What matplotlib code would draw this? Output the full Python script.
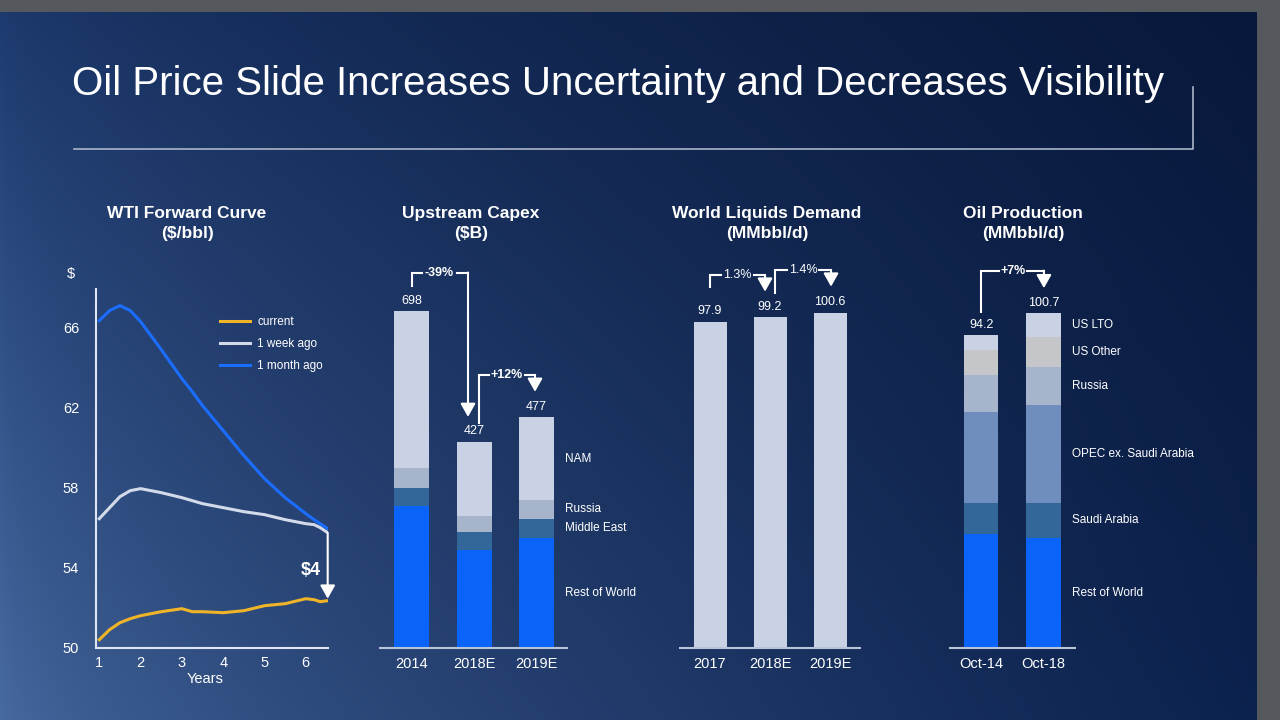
import numpy as np
import matplotlib
matplotlib.use('Agg')
import matplotlib.pyplot as plt
from matplotlib.lines import Line2D

plt.rcParams['font.family'] = ['Liberation Sans', 'DejaVu Sans']

W, H = 1280, 720

# --- data -------------------------------------------------------------
title = 'Oil Price Slide Increases Uncertainty and Decreases Visibility'

# WTI forward curve ($/bbl)
wti_years = [1.0, 1.25, 1.5, 1.75, 2.0, 2.5, 3.0, 3.25, 3.5, 4.0, 4.5, 5.0, 5.5, 6.0, 6.2, 6.35, 6.53]
wti_current = [50.4, 50.9, 51.25, 51.45, 51.6, 51.8, 51.95, 51.8, 51.8, 51.75, 51.85, 52.1, 52.2, 52.45, 52.4, 52.3, 52.35]
wti_week = [56.45, 57.0, 57.55, 57.85, 57.95, 57.75, 57.5, 57.35, 57.2, 57.0, 56.8, 56.65, 56.4, 56.2, 56.15, 56.0, 55.75]
wti_month = [66.35, 66.85, 67.1, 66.85, 66.3, 64.9, 63.45, 62.8, 62.1, 60.85, 59.6, 58.45, 57.5, 56.7, 56.4, 56.2, 55.95]
wti_yticks = [50, 54, 58, 62, 66]
wti_xticks = [1, 2, 3, 4, 5, 6]

# Upstream capex ($B)
capex_cats = ['2014', '2018E', '2019E']
capex_row = [294, 202, 228]
capex_me = [37, 38, 39]
capex_russia = [42, 33, 39]
capex_nam = [325, 154, 171]
capex_labels = ['Rest of World', 'Middle East', 'Russia', 'NAM']

# World liquids demand (MMbbl/d)
demand_cats = ['2017', '2018E', '2019E']
demand_vals = [97.9, 99.2, 100.6]

# Oil production (MMbbl/d)
prod_cats = ['Oct-14', 'Oct-18']
prod_row = [34.2, 33.1]
prod_saudi = [9.5, 10.6]
prod_opec = [27.4, 29.4]
prod_russia = [11.0, 11.5]
prod_usother = [7.6, 8.9]
prod_lto = [4.5, 7.2]
prod_labels = ['Rest of World', 'Saudi Arabia', 'OPEC ex. Saudi Arabia', 'Russia', 'US Other', 'US LTO']

# --- colours ----------------------------------------------------------
C_ROW = '#0a64fa'
C_ME = '#33679a'
C_RUS = '#a6b4cc'
C_NAM = '#c9d2e4'
C_OPEC = '#6f8ebd'
C_USO = '#c5c6ca'
C_AXIS = '#b8c4d8'

fig = plt.figure(figsize=(12.8, 7.2), dpi=100)
fig.patch.set_facecolor('#55595e')


def px_axes(x0, x1, ybot, ytop, z=1):
    return fig.add_axes([x0 / W, 1 - ybot / H, (x1 - x0) / W, (ybot - ytop) / H], zorder=z)


# background gradient (light bottom-left -> dark top-right)
bg = px_axes(0, 1257, 720, 12, z=0)
nx, ny = 400, 240
u = np.linspace(0, 1, nx)[None, :, None] ** 0.6
v = np.linspace(0, 1, ny)[:, None, None]
TL = np.array([0x1e, 0x3b, 0x70]) / 255
TR = np.array([0x08, 0x18, 0x3a]) / 255
BL = np.array([0x48, 0x6b, 0xa2]) / 255
BR = np.array([0x0c, 0x22, 0x4e]) / 255
grad = (1 - u) * (1 - v) * TL + u * (1 - v) * TR + (1 - u) * v * BL + u * v * BR
bg.imshow(grad, aspect='auto', extent=[0, 1, 0, 1])
bg.axis('off')

fig.text(72 / W, 1 - 84 / H, title, fontsize=29, color='white', ha='left', va='center')
fig.add_artist(Line2D([74 / W, 1193 / W, 1193 / W], [1 - 149 / H, 1 - 149 / H, 1 - 87 / H],
                      transform=fig.transFigure, color='#a9b5c9', lw=1.2, zorder=2))

chart_titles = [('WTI Forward Curve\n(\\$/bbl)', 187), ('Upstream Capex\n(\\$B)', 471),
                ('World Liquids Demand\n(MMbbl/d)', 767), ('Oil Production\n(MMbbl/d)', 1023)]
for txt, cx in chart_titles:
    fig.text(cx / W, 1 - 223.5 / H, txt, fontsize=12.5, weight='bold', color='white',
             ha='center', va='center', linespacing=1.35, zorder=3)

# --- WTI forward curve ------------------------------------------------
ax1 = px_axes(95.7, 327.7, 647.7, 289)
ax1.set_facecolor('none')
ax1.plot(wti_years, wti_current, color='#f0b429', lw=2.2, label='current')
ax1.plot(wti_years, wti_week, color='#d3dbea', lw=2.2, label='1 week ago')
ax1.plot(wti_years, wti_month, color='#1a6dff', lw=2.2, label='1 month ago')
ax1.set_xlim(0.913, 6.53)
ax1.set_ylim(50, 67.93)
ax1.set_xticks(wti_xticks)
ax1.set_yticks(wti_yticks)
ax1.tick_params(length=0, colors='white', labelsize=10.5)
ax1.tick_params(axis='y', pad=12)
ax1.tick_params(axis='x', pad=6)
for s in ['top', 'right']:
    ax1.spines[s].set_visible(False)
for s in ['left', 'bottom']:
    ax1.spines[s].set_color('#dfe6f0')
    ax1.spines[s].set_linewidth(1.5)
leg = ax1.legend(loc='upper left', bbox_to_anchor=(0.536, 0.925), frameon=False, fontsize=8.5,
                 labelcolor='white', handlelength=2.5, handletextpad=0.65, labelspacing=0.85,
                 borderpad=0, borderaxespad=0)
ax1.annotate('', xy=(wti_years[-1], wti_current[-1] + 0.1), xytext=(wti_years[-1], wti_week[-1]),
             arrowprops=dict(arrowstyle='-|>,head_width=0.45,head_length=0.8', color='white',
                             lw=1.5, shrinkA=0, shrinkB=0), annotation_clip=False)
ax1.text(6.13, 53.85, r'\$4', fontsize=13, weight='bold', color='white', ha='center', va='center')
fig.text(71 / W, 1 - 274 / H, r'\$', fontsize=10.5, color='white', ha='center', va='center')
fig.text(205 / W, 1 - 679 / H, 'Years', fontsize=10.5, color='white', ha='center', va='center')


def style_bar_axes(ax, cats):
    ax.set_facecolor('none')
    for s in ['top', 'right', 'left']:
        ax.spines[s].set_visible(False)
    ax.spines['bottom'].set_color(C_AXIS)
    ax.spines['bottom'].set_linewidth(1.5)
    ax.set_yticks([])
    ax.set_xticks(range(len(cats)))
    ax.set_xticklabels(cats)
    ax.tick_params(length=0, colors='white', labelsize=10.5, pad=7)


def stacked(ax, cats, layers, colors, width, labels=None, label_dx=0.18):
    bottom = np.zeros(len(cats))
    x = np.arange(len(cats))
    for vals, col, in zip(layers, colors):
        ax.bar(x, vals, width, bottom=bottom, color=col, edgecolor='none')
        bottom = bottom + np.array(vals)
    if labels:
        b = 0
        for vals, lab in zip(layers, labels):
            ax.text(x[-1] + width / 2 + label_dx, b + vals[-1] / 2, lab, fontsize=8.5,
                    color='white', ha='left', va='center', clip_on=False)
            b += vals[-1]
    return bottom


def value_labels(ax, totals, fmt):
    for i, t in enumerate(totals):
        ax.annotate(fmt.format(t), (i, t), xytext=(0, 3), textcoords='offset points',
                    ha='center', va='bottom', fontsize=9, color='white', annotation_clip=False)


def bracket(ax, x0, y0, x1, y1, ytop, text, tx, g0, g1, bold=True):
    kw = dict(color='white', lw=1.5, clip_on=False, solid_joinstyle='miter')
    ax.plot([x0, x0, g0], [y0, ytop, ytop], **kw)
    ax.plot([g1, x1], [ytop, ytop], **kw)
    ax.annotate('', xy=(x1, y1), xytext=(x1, ytop),
                arrowprops=dict(arrowstyle='-|>,head_width=0.45,head_length=0.8', color='white',
                                lw=1.5, shrinkA=0, shrinkB=0), annotation_clip=False)
    ax.text(tx, ytop, text, fontsize=9, color='white', weight='bold' if bold else 'normal',
            ha='center', va='center', clip_on=False)


# --- Upstream capex ---------------------------------------------------
ax2 = px_axes(380, 567, 647.7, 260)
style_bar_axes(ax2, capex_cats)
ax2.set_xlim(-0.504, 2.488)
ax2.set_ylim(0, 803)
tot2 = stacked(ax2, capex_cats, [capex_row, capex_me, capex_russia, capex_nam],
               [C_ROW, C_ME, C_RUS, C_NAM], 0.56, capex_labels)
value_labels(ax2, tot2, '{:.0f}')
bracket(ax2, 0, tot2[0] + 52, 0.904, tot2[1] + 51, tot2[0] + 79, '-39%', 0.44, 0.17, 0.72)
bracket(ax2, 1.08, tot2[1] + 38, 1.976, tot2[2] + 53, tot2[1] + 138, '+12%', 1.52, 1.24, 1.81)

# --- World liquids demand ---------------------------------------------
ax3 = px_axes(680, 860, 647.7, 260)
style_bar_axes(ax3, demand_cats)
ax3.set_xlim(-0.5, 2.5)
ax3.set_ylim(0, 116.4)
ax3.bar(range(len(demand_cats)), demand_vals, 0.55, color=C_NAM, edgecolor='none')
value_labels(ax3, demand_vals, '{:.1f}')
bracket(ax3, 0, demand_vals[0] + 10.5, 0.917, demand_vals[1] + 7.7, demand_vals[0] + 14.0,
        '1.3%', 0.46, 0.19, 0.74, bold=False)
bracket(ax3, 1.083, demand_vals[1] + 7.3, 2.017, demand_vals[2] + 7.8, demand_vals[1] + 14.2,
        '1.4%', 1.55, 1.28, 1.81, bold=False)

# --- Oil production ---------------------------------------------------
ax4 = px_axes(950, 1075, 647.7, 260)
style_bar_axes(ax4, prod_cats)
ax4.set_xlim(-0.5, 1.51)
ax4.set_ylim(0, 116.8)
tot4 = stacked(ax4, prod_cats, [prod_row, prod_saudi, prod_opec, prod_russia, prod_usother, prod_lto],
               [C_ROW, C_ME, C_OPEC, C_RUS, C_USO, C_NAM], 0.554, prod_labels)
value_labels(ax4, tot4, '{:.1f}')
bracket(ax4, 0, tot4[0] + 7.0, 1.01, tot4[1] + 7.6, tot4[0] + 19.4, '+7%', 0.514, 0.29, 0.74)

fig.savefig('out.png', dpi=100, facecolor=fig.get_facecolor())
